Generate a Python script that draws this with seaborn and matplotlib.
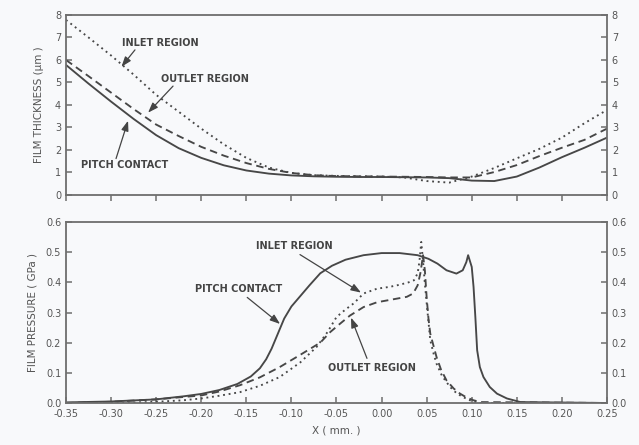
import numpy as np
import pandas as pd
import matplotlib
matplotlib.use("Agg")
import matplotlib.pyplot as plt
import seaborn as sns

# ---- film thickness (um) along X (mm) ----
x_thk = [-0.35, -0.325, -0.30, -0.275, -0.25, -0.225, -0.20, -0.175, -0.15, -0.125,
         -0.10, -0.075, -0.05, -0.025, 0.0, 0.025, 0.05, 0.075, 0.10, 0.125,
         0.15, 0.175, 0.20, 0.225, 0.25]
thk_pitch = [5.78, 4.95, 4.15, 3.38, 2.66, 2.08, 1.65, 1.32, 1.09, 0.95,
             0.87, 0.83, 0.81, 0.80, 0.80, 0.79, 0.78, 0.75, 0.64, 0.62,
             0.82, 1.22, 1.68, 2.10, 2.55]
thk_outlet = [6.00, 5.28, 4.55, 3.82, 3.13, 2.62, 2.14, 1.75, 1.42, 1.16,
              0.98, 0.88, 0.84, 0.83, 0.82, 0.81, 0.80, 0.78, 0.78, 1.02,
              1.33, 1.73, 2.10, 2.45, 2.95]
thk_inlet = [7.78, 7.00, 6.20, 5.35, 4.45, 3.70, 2.95, 2.25, 1.65, 1.22,
             0.98, 0.88, 0.85, 0.83, 0.82, 0.78, 0.62, 0.55, 0.82, 1.20,
             1.63, 2.05, 2.55, 3.19, 3.78]

# ---- film pressure (GPa) along X (mm) ----
x_p_pitch = [-0.35, -0.30, -0.25, -0.22, -0.20, -0.18, -0.16, -0.145, -0.135, -0.128,
             -0.122, -0.115, -0.108, -0.10, -0.09, -0.08, -0.068, -0.055, -0.04, -0.02,
             0.0, 0.02, 0.04, 0.052, 0.062, 0.072, 0.083, 0.09, 0.094, 0.096,
             0.100, 0.102, 0.104, 0.106, 0.109, 0.113, 0.120, 0.128, 0.139, 0.154, 0.25]
p_pitch = [0.002, 0.005, 0.012, 0.022, 0.030, 0.043, 0.063, 0.088, 0.115, 0.145,
           0.180, 0.230, 0.280, 0.320, 0.355, 0.390, 0.430, 0.455, 0.475, 0.490,
           0.497, 0.497, 0.490, 0.478, 0.462, 0.440, 0.429, 0.440, 0.467, 0.490,
           0.451, 0.385, 0.285, 0.175, 0.119, 0.086, 0.053, 0.031, 0.015, 0.003, 0.0]

x_p_outlet = [-0.35, -0.30, -0.25, -0.20, -0.18, -0.157, -0.135, -0.113, -0.09, -0.068,
              -0.057, -0.046, -0.035, -0.02, -0.005, 0.006, 0.017, 0.028, 0.035, 0.04,
              0.043, 0.045, 0.046, 0.048, 0.050, 0.052, 0.054, 0.058, 0.061, 0.066,
              0.072, 0.08, 0.087, 0.095, 0.102, 0.11, 0.25]
p_outlet = [0.0, 0.004, 0.012, 0.025, 0.038, 0.059, 0.085, 0.119, 0.160, 0.200,
            0.235, 0.263, 0.290, 0.318, 0.334, 0.340, 0.346, 0.352, 0.363, 0.390,
            0.430, 0.470, 0.490, 0.440, 0.350, 0.280, 0.230, 0.185, 0.152, 0.110,
            0.075, 0.048, 0.031, 0.017, 0.009, 0.003, 0.0]

x_p_inlet = [-0.35, -0.28, -0.25, -0.22, -0.20, -0.18, -0.157, -0.135, -0.113, -0.09,
             -0.072, -0.06, -0.05, -0.04, -0.031, -0.02, -0.005, 0.009, 0.02, 0.03,
             0.036, 0.04, 0.042, 0.044, 0.046, 0.048, 0.051, 0.054, 0.058, 0.061,
             0.067, 0.076, 0.083, 0.09, 0.098, 0.108, 0.25]
p_inlet = [0.0, 0.001, 0.004, 0.009, 0.015, 0.024, 0.036, 0.057, 0.086, 0.135,
           0.186, 0.235, 0.285, 0.310, 0.330, 0.363, 0.379, 0.385, 0.392, 0.400,
           0.407, 0.430, 0.470, 0.534, 0.470, 0.396, 0.300, 0.208, 0.160, 0.130,
           0.090, 0.053, 0.033, 0.020, 0.009, 0.0, 0.0]

x_ticks = [-0.35, -0.30, -0.25, -0.20, -0.15, -0.10, -0.05, 0.0, 0.05, 0.10, 0.15, 0.20, 0.25]
thk_ticks = [0, 1, 2, 3, 4, 5, 6, 7, 8]
p_ticks = [0.0, 0.1, 0.2, 0.3, 0.4, 0.5, 0.6]

sns.set_theme(style="ticks")
plt.rcParams["font.family"] = ["DejaVu Sans"]
plt.rcParams["axes.unicode_minus"] = False

BG = "#f8f9fb"
LINE = "#474747"
AX = "#6e6e6e"
TXT = "#555555"

fig = plt.figure(figsize=(6.39, 4.45), dpi=100, facecolor=BG)
ax1 = fig.add_axes([0.1033, 0.5618, 0.8466, 0.4045])
ax2 = fig.add_axes([0.1033, 0.0944, 0.8466, 0.4067])

DOT = (0, (1, 2.0))
DASH = (0, (4, 2.5))
LW = 1.35

thk_df = pd.DataFrame({"x": x_thk, "pitch": thk_pitch, "outlet": thk_outlet, "inlet": thk_inlet})
sns.lineplot(data=thk_df, x="x", y="pitch", ax=ax1, color=LINE, lw=LW, sort=False)
sns.lineplot(data=thk_df, x="x", y="outlet", ax=ax1, color=LINE, lw=LW, linestyle=DASH, sort=False)
sns.lineplot(data=thk_df, x="x", y="inlet", ax=ax1, color=LINE, lw=LW, linestyle=DOT, sort=False)

sns.lineplot(x=x_p_pitch, y=p_pitch, ax=ax2, color=LINE, lw=LW, sort=False)
sns.lineplot(x=x_p_outlet, y=p_outlet, ax=ax2, color=LINE, lw=LW, linestyle=DASH, sort=False)
sns.lineplot(x=x_p_inlet, y=p_inlet, ax=ax2, color=LINE, lw=LW, linestyle=DOT, sort=False)

for ax in (ax1, ax2):
    ax.set_facecolor(BG)
    ax.set_xlim(-0.35, 0.25)
    ax.set_xticks(x_ticks)
    for s in ax.spines.values():
        s.set_visible(True)
        s.set_color(AX)
        s.set_linewidth(1.3)
    ax.tick_params(colors=AX, labelcolor=TXT, labelsize=7, length=4, width=1.1,
                   left=True, right=True, labelleft=True, labelright=True)

ax1.set_ylim(0, 8)
ax1.set_yticks(thk_ticks)
ax1.set_yticklabels([str(t) for t in thk_ticks])
ax1.tick_params(axis="y", direction="in")
ax1.tick_params(axis="x", direction="out", labelbottom=False)
ax1.set_xlabel("")
ax1.set_ylabel("FILM THICKNESS (µm )", fontsize=7.5, color=TXT, labelpad=8)

ax2.set_ylim(0, 0.6)
ax2.set_yticks(p_ticks)
ax2.set_yticklabels([f"{t:.1f}" for t in p_ticks])
ax2.set_xticklabels([f"{t:.2f}" for t in x_ticks])
ax2.tick_params(axis="both", direction="in")
ax2.tick_params(axis="x", pad=4)
ax2.set_xlabel("X ( mm. )", fontsize=7.5, color=TXT, labelpad=5)
ax2.set_ylabel("FILM PRESSURE ( GPa )", fontsize=7.5, color=TXT, labelpad=6)

ann = dict(fontsize=7, color="#444444", fontweight="bold", ha="center", va="center",
           family=["Liberation Sans Narrow", "DejaVu Sans"])
arrow = dict(arrowstyle="-|>,head_length=0.5,head_width=0.18", color="#444444", lw=0.9,
             shrinkA=0, shrinkB=0)

# thickness panel callouts
ax1.text(-0.2457, 6.76, "INLET REGION", **ann)
ax1.annotate("", xy=(-0.2885, 5.70), xytext=(-0.2735, 6.45), arrowprops=arrow)
ax1.text(-0.196, 5.16, "OUTLET REGION", **ann)
ax1.annotate("", xy=(-0.259, 3.66), xytext=(-0.2313, 4.84), arrowprops=arrow)
ax1.text(-0.2846, 1.33, "PITCH CONTACT", **ann)
ax1.annotate("", xy=(-0.2812, 3.30), xytext=(-0.2945, 1.62), arrowprops=arrow)

# pressure panel callouts
ax2.text(-0.097, 0.519, "INLET REGION", **ann)
ax2.annotate("", xy=(-0.0228, 0.366), xytext=(-0.0905, 0.492), arrowprops=arrow)
ax2.text(-0.158, 0.377, "PITCH CONTACT", **ann)
ax2.annotate("", xy=(-0.1126, 0.262), xytext=(-0.149, 0.35), arrowprops=arrow)
ax2.text(-0.0106, 0.115, "OUTLET REGION", **ann)
ax2.annotate("", xy=(-0.0339, 0.283), xytext=(-0.0162, 0.148), arrowprops=arrow)

fig.savefig("out.png", dpi=100, facecolor=BG)
